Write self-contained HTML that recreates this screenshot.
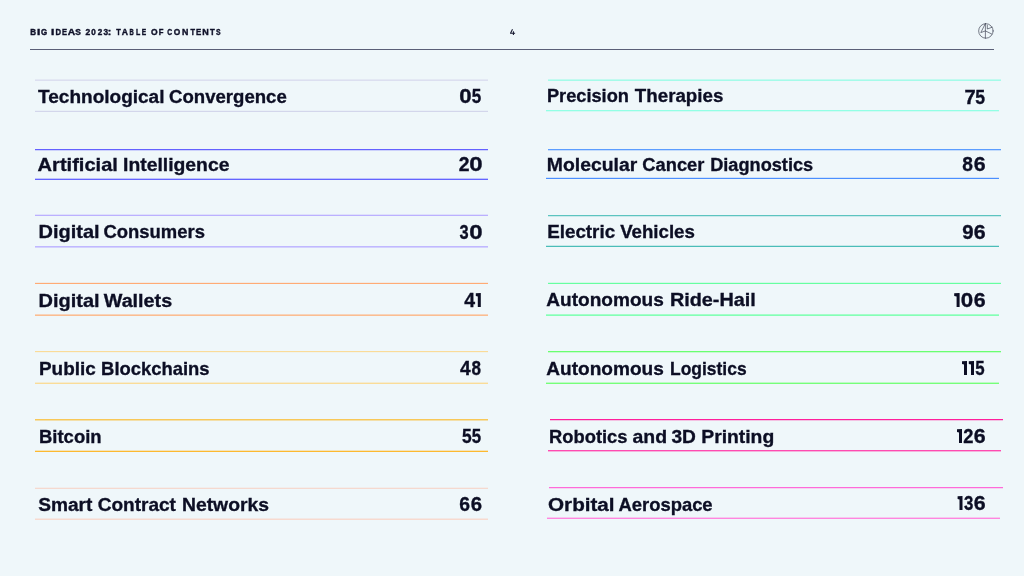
<!DOCTYPE html>
<html><head><meta charset="utf-8">
<style>
html,body{margin:0;padding:0;}
body{width:1024px;height:576px;background:#eff7fa;position:relative;overflow:hidden;font-family:"Liberation Sans",sans-serif;color:#0c0e24;}
.rule{position:absolute;left:30px;top:49px;width:964px;height:1px;background:#5a5f77;}
.ln{position:absolute;height:1px;}
svg.txt{position:absolute;left:0;top:0;will-change:opacity;opacity:0.999;}
.t{font-family:"Liberation Sans",sans-serif;font-size:20px;font-weight:bold;fill:#0c0e24;stroke:#0c0e24;stroke-width:0.35px;white-space:pre;}
.h{font-family:"Liberation Sans",sans-serif;font-size:8.6px;font-weight:bold;fill:#0f1129;stroke:#0f1129;stroke-width:0.4px;}
</style></head><body>
<div class="rule"></div>
<div class="ln" style="left:35px;width:453px;top:80px;background:#dcdff0;box-shadow:0 -1px 0 rgba(220,223,240,0.6)"></div>
<div class="ln" style="left:35px;width:453px;top:111px;background:#d3d6eb;box-shadow:0 -1px 0 rgba(211,214,235,0.2)"></div>
<div class="ln" style="left:35px;width:453px;top:149px;background:#6461ff;box-shadow:0 1px 0 rgba(100,97,255,0.25)"></div>
<div class="ln" style="left:35px;width:453px;top:179px;background:#6464ff;box-shadow:0 -1px 0 rgba(100,100,255,0.35)"></div>
<div class="ln" style="left:35px;width:453px;top:215px;background:#bbb0ff;box-shadow:0 -1px 0 rgba(187,176,255,0.3)"></div>
<div class="ln" style="left:35px;width:453px;top:246px;background:#c0b8ff;box-shadow:0 1px 0 rgba(192,184,255,0.6)"></div>
<div class="ln" style="left:35px;width:453px;top:283px;background:#ffab75;box-shadow:0 -1px 0 rgba(255,171,117,0.15)"></div>
<div class="ln" style="left:35px;width:453px;top:315px;background:#fbbd91;box-shadow:0 -1px 0 rgba(251,189,145,0.6)"></div>
<div class="ln" style="left:35px;width:453px;top:351px;background:#fadb98;box-shadow:0 1px 0 rgba(250,219,152,0.15)"></div>
<div class="ln" style="left:35px;width:453px;top:383px;background:#fadc98;box-shadow:0 -1px 0 rgba(250,220,152,0.4)"></div>
<div class="ln" style="left:35px;width:453px;top:419px;background:#f8c858;box-shadow:0 1px 0 rgba(248,200,88,0.5)"></div>
<div class="ln" style="left:35px;width:453px;top:451px;background:#fdb92f;box-shadow:0 -1px 0 rgba(253,185,47,0.3)"></div>
<div class="ln" style="left:35px;width:453px;top:488px;background:#f5d9cf;box-shadow:0 -1px 0 rgba(245,217,207,0.3)"></div>
<div class="ln" style="left:35px;width:453px;top:519px;background:#f7dacf;box-shadow:0 -1px 0 rgba(247,218,207,0.5)"></div>
<div class="ln" style="left:548px;width:453px;top:80px;background:#a5fbe9;box-shadow:0 -1px 0 rgba(165,251,233,0.6)"></div>
<div class="ln" style="left:546px;width:453px;top:110px;background:#92ffe5;box-shadow:0 1px 0 rgba(146,255,229,0.3)"></div>
<div class="ln" style="left:548px;width:453px;top:149px;background:#5c9dff;box-shadow:0 1px 0 rgba(92,157,255,0.3)"></div>
<div class="ln" style="left:546px;width:453px;top:178px;background:#4b8fff;box-shadow:0 -1px 0 rgba(75,143,255,0.2)"></div>
<div class="ln" style="left:548px;width:453px;top:215px;background:#5cc4c0;box-shadow:0 1px 0 rgba(92,196,192,0.25)"></div>
<div class="ln" style="left:546px;width:453px;top:246px;background:#4abdb8;box-shadow:0 -1px 0 rgba(74,189,184,0.25)"></div>
<div class="ln" style="left:548px;width:453px;top:283px;background:#66ffa0;box-shadow:0 -1px 0 rgba(102,255,160,0.2)"></div>
<div class="ln" style="left:546px;width:453px;top:315px;background:#84ffb5;box-shadow:0 -1px 0 rgba(132,255,181,0.7)"></div>
<div class="ln" style="left:548px;width:453px;top:351px;background:#6aff70;box-shadow:0 1px 0 rgba(106,255,112,0.3)"></div>
<div class="ln" style="left:546px;width:453px;top:383px;background:#76ff79;box-shadow:0 -1px 0 rgba(118,255,121,0.4)"></div>
<div class="ln" style="left:550px;width:453px;top:419px;background:#ff1f9b;box-shadow:0 1px 0 rgba(255,31,155,0.25)"></div>
<div class="ln" style="left:548px;width:453px;top:450px;background:#ff4bb0;box-shadow:0 1px 0 rgba(255,75,176,0.4)"></div>
<div class="ln" style="left:549px;width:454px;top:487px;background:#ff6ad9;box-shadow:0 1px 0 rgba(255,106,217,0.25)"></div>
<div class="ln" style="left:547px;width:453px;top:518px;background:#ff86df;box-shadow:0 -1px 0 rgba(255,134,223,0.4)"></div>
<svg class="txt" width="1024" height="576" viewBox="0 0 1024 576">
<g fill="none" stroke="#2e3142" stroke-width="0.62" stroke-linecap="round" stroke-linejoin="round">
<circle cx="985.9" cy="30.95" r="7.25"/>
<path d="M512.5 29.2 L510.5 33.3 H515.1 M513.4 31.3 V35" stroke="#15172e" stroke-width="1.05" stroke-linecap="butt"/>
<path d="M985.4 23.6 V38.3 M985.3 23.7 L980.8 32.6 L985.4 30.9 L991.9 34.1 M987.3 25.3 V29 L992.2 27.2"/>
</g>
<text class="t" transform="translate(38.037 103) scale(0.9518 0.95)">Technological</text>
<text class="t" transform="translate(169.049 103) scale(0.9295 0.95)">Convergence</text>
<text class="t" transform="translate(459.128 103) scale(1.1069 1.0)">0</text>
<text class="t" transform="translate(471.819 103) scale(0.8513 1.0)">5</text>
<text class="t" transform="translate(37.611 171) scale(1.0033 0.95)">Artificial</text>
<text class="t" transform="translate(123.044 171) scale(0.9678 0.95)">Intelligence</text>
<text class="t" transform="translate(458.729 171) scale(0.9661 1.0)">2</text>
<text class="t" transform="translate(469.153 171) scale(1.2009 1.0)">0</text>
<text class="t" transform="translate(38.614 238) scale(0.9976 0.95)">Digital</text>
<text class="t" transform="translate(103.455 238) scale(0.9221 0.95)">Consumers</text>
<text class="t" transform="translate(459.427 239) scale(0.8203 1.0)">3</text>
<text class="t" transform="translate(469.153 239) scale(1.2009 1.0)">0</text>
<text class="t" transform="translate(38.614 307) scale(0.9976 0.95)">Digital</text>
<text class="t" transform="translate(103.762 307) scale(0.9874 0.95)">Wallets</text>
<text class="t" transform="translate(464.131 307) scale(0.9725 1.0)">4</text>
<path transform="translate(475.80 293)" d="M0 0.2 L5.00 0 L5.00 14 L2.00 14 L2.00 3.6 L0 2.9 Z" fill="#0c0e24"/>
<text class="t" transform="translate(38.964 375) scale(0.9468 0.95)">Public</text>
<text class="t" transform="translate(101.090 375) scale(0.9209 0.95)">Blockchains</text>
<text class="t" transform="translate(459.930 375) scale(0.9547 1.0)">4</text>
<text class="t" transform="translate(471.615 375) scale(0.8526 1.0)">8</text>
<text class="t" transform="translate(38.987 443) scale(0.9240 0.95)">Bitcoin</text>
<text class="t" transform="translate(462.103 443) scale(0.8709 1.0)">5</text>
<text class="t" transform="translate(471.727 443) scale(0.8415 1.0)">5</text>
<text class="t" transform="translate(38.141 511) scale(0.9570 0.95)">Smart</text>
<text class="t" transform="translate(97.630 511) scale(0.9529 0.95)">Contract</text>
<text class="t" transform="translate(181.944 511) scale(0.9675 0.95)">Networks</text>
<text class="t" transform="translate(459.180 511) scale(0.9661 1.0)">6</text>
<text class="t" transform="translate(470.642 511) scale(1.0175 1.0)">6</text>
<text class="t" transform="translate(546.900 102) scale(0.9106 0.95)">Precision</text>
<text class="t" transform="translate(634.837 102) scale(0.9368 0.95)">Therapies</text>
<text class="t" transform="translate(964.388 104) scale(1.0049 1.0)">7</text>
<text class="t" transform="translate(975.295 104) scale(0.8807 1.0)">5</text>
<text class="t" transform="translate(546.843 171) scale(0.9689 0.95)">Molecular</text>
<text class="t" transform="translate(642.361 171) scale(0.9152 0.95)">Cancer</text>
<text class="t" transform="translate(710.202 171) scale(0.9088 0.95)">Diagnostics</text>
<text class="t" transform="translate(962.342 171) scale(0.9592 1.0)">8</text>
<text class="t" transform="translate(973.704 171) scale(1.0689 1.0)">6</text>
<text class="t" transform="translate(547.171 238) scale(0.9403 0.95)">Electric</text>
<text class="t" transform="translate(620.129 238) scale(0.9346 0.95)">Vehicles</text>
<text class="t" transform="translate(962.274 239) scale(1.0175 1.0)">9</text>
<text class="t" transform="translate(973.704 239) scale(1.0689 1.0)">6</text>
<text class="t" transform="translate(546.346 306) scale(0.9532 0.95)">Autonomous</text>
<text class="t" transform="translate(669.920 306) scale(0.9921 0.95)">Ride-Hail</text>
<path transform="translate(954.20 293)" d="M0 0.2 L5.40 0 L5.40 14 L2.40 14 L2.40 3.6 L0 2.9 Z" fill="#0c0e24"/>
<text class="t" transform="translate(960.819 307) scale(1.1173 1.0)">0</text>
<text class="t" transform="translate(973.704 307) scale(1.0689 1.0)">6</text>
<text class="t" transform="translate(546.346 375) scale(0.9532 0.95)">Autonomous</text>
<text class="t" transform="translate(670.038 375) scale(0.8725 0.95)">Logistics</text>
<path transform="translate(962.00 361)" d="M0 0.2 L5.00 0 L5.00 14 L2.00 14 L2.00 3.6 L0 2.9 Z" fill="#0c0e24"/>
<path transform="translate(968.80 361)" d="M0 0.2 L5.20 0 L5.20 14 L2.20 14 L2.20 3.6 L0 2.9 Z" fill="#0c0e24"/>
<text class="t" transform="translate(975.327 375) scale(0.8415 1.0)">5</text>
<text class="t" transform="translate(548.993 443) scale(0.9182 0.95)">Robotics</text>
<text class="t" transform="translate(632.467 443) scale(0.9731 0.95)">and</text>
<text class="t" transform="translate(671.448 443) scale(0.9573 0.95)">3D</text>
<text class="t" transform="translate(701.245 443) scale(0.9664 0.95)">Printing</text>
<path transform="translate(957.00 429)" d="M0 0.2 L5.00 0 L5.00 14 L2.00 14 L2.00 3.6 L0 2.9 Z" fill="#0c0e24"/>
<text class="t" transform="translate(963.365 443) scale(0.9148 1.0)">2</text>
<text class="t" transform="translate(973.704 443) scale(1.0689 1.0)">6</text>
<text class="t" transform="translate(548.045 511) scale(1.0332 0.95)">Orbital</text>
<text class="t" transform="translate(618.468 511) scale(0.9207 0.95)">Aerospace</text>
<path transform="translate(957.60 496)" d="M0 0.2 L4.90 0 L4.90 14 L1.90 14 L1.90 3.6 L0 2.9 Z" fill="#0c0e24"/>
<text class="t" transform="translate(964.115 510) scale(0.8405 1.0)">3</text>
<text class="t" transform="translate(973.704 510) scale(1.0689 1.0)">6</text>
<text class="h" transform="translate(30.363 35) scale(0.9348 1.0)">B</text>
<text class="h" transform="translate(37.010 35) scale(1.3727 1.0)">I</text>
<text class="h" transform="translate(41.071 35) scale(0.9240 1.0)">G</text>
<text class="h" transform="translate(51.110 35) scale(1.3727 1.0)">I</text>
<text class="h" transform="translate(55.487 35) scale(0.8915 1.0)">D</text>
<text class="h" transform="translate(61.900 35) scale(0.8704 1.0)">E</text>
<text class="h" transform="translate(67.762 35) scale(1.1897 1.0)">A</text>
<text class="h" transform="translate(75.334 35) scale(0.9752 1.0)">S</text>
<text class="h" transform="translate(85.504 35) scale(0.9903 1.0)">2</text>
<text class="h" transform="translate(91.316 35) scale(0.9451 1.0)">0</text>
<text class="h" transform="translate(97.719 35) scale(0.9420 1.0)">2</text>
<text class="h" transform="translate(103.409 35) scale(0.9535 1.0)">3</text>
<text class="h" transform="translate(107.729 35) scale(1.2139 1.0)">:</text>
<text class="h" transform="translate(116.216 35) scale(0.8622 1.0)">T</text>
<text class="h" transform="translate(121.700 35) scale(1.0000 1.0)">A</text>
<text class="h" transform="translate(129.505 35) scale(0.6868 1.0)">B</text>
<text class="h" transform="translate(136.032 35) scale(0.8135 1.0)">L</text>
<text class="h" transform="translate(141.859 35) scale(0.7668 1.0)">E</text>
<text class="h" transform="translate(150.948 35) scale(0.9882 1.0)">O</text>
<text class="h" transform="translate(158.686 35) scale(0.8938 1.0)">F</text>
<text class="h" transform="translate(167.216 35) scale(0.7973 1.0)">C</text>
<text class="h" transform="translate(173.654 35) scale(0.9715 1.0)">O</text>
<text class="h" transform="translate(182.109 35) scale(1.0285 1.0)">N</text>
<text class="h" transform="translate(190.516 35) scale(0.8622 1.0)">T</text>
<text class="h" transform="translate(195.876 35) scale(0.9119 1.0)">E</text>
<text class="h" transform="translate(202.197 35) scale(1.0482 1.0)">N</text>
<text class="h" transform="translate(210.013 35) scale(0.9014 1.0)">T</text>
<text class="h" transform="translate(215.982 35) scale(0.7997 1.0)">S</text>
</svg>
</body></html>
